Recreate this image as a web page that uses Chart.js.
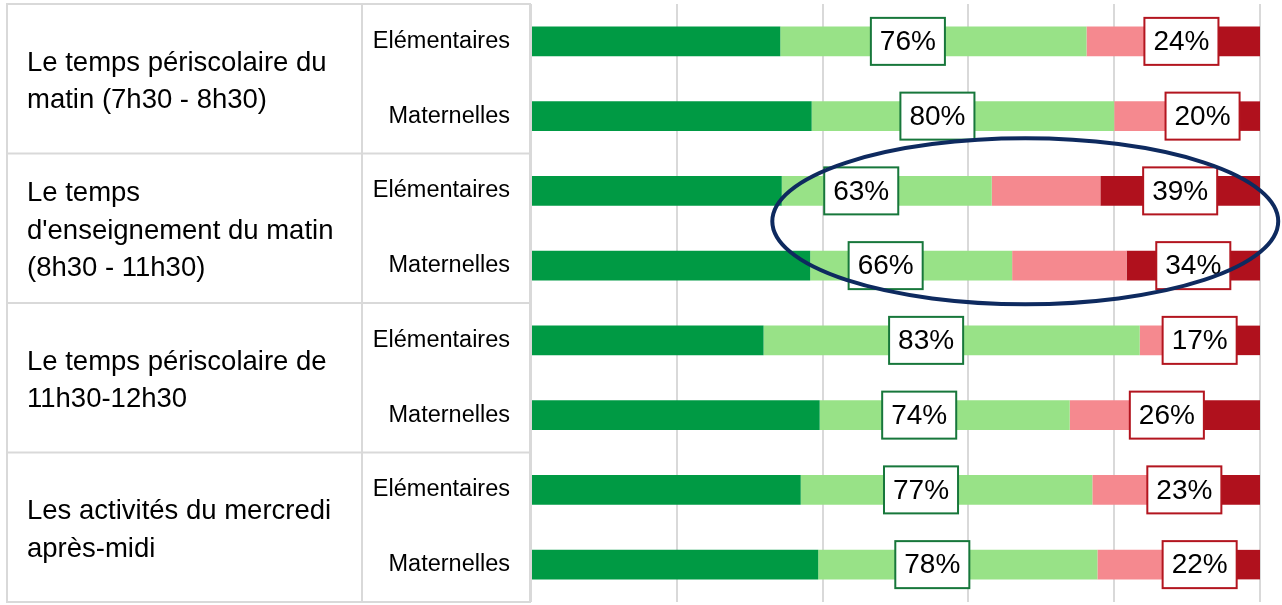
<!DOCTYPE html>
<html lang="fr">
<head>
<meta charset="utf-8">
<title>Temps périscolaire</title>
<script src="https://cdn.jsdelivr.net/npm/chart.js@4.4.1/dist/chart.umd.min.js"></script>
<style>
    html, body { margin: 0; padding: 0; background: #ffffff; }
    #chartCanvasContainer { width: 1282px; height: 605px; }
</style>
</head>
<body>
<div id="chartCanvasContainer"><canvas id="barCanvas" width="1282" height="605"></canvas></div>
<script>
const subLabels = ['Elémentaires', 'Maternelles', 'Elémentaires', 'Maternelles',
    'Elémentaires', 'Maternelles', 'Elémentaires', 'Maternelles']
const groupLabels = [
    ['Le temps périscolaire du', 'matin (7h30 - 8h30)'],
    ['Le temps', "d'enseignement du matin", '(8h30 - 11h30)'],
    ['Le temps périscolaire de', '11h30-12h30'],
    ['Les activités du mercredi', 'après-midi']
]
const darkGreen = [34.2, 38.5, 34.4, 38.3, 31.9, 39.6, 37.0, 39.4]
const lightGreen = [42.0, 41.5, 28.8, 27.7, 51.6, 34.3, 40.0, 38.3]
const pink = [18.1, 17.2, 14.9, 15.7, 13.3, 18.4, 17.7, 19.1]
const darkRed = [5.7, 2.8, 21.9, 18.3, 3.2, 7.7, 5.3, 3.2]
const positiveLabels = [76, 80, 63, 66, 83, 74, 77, 78]
const negativeLabels = [24, 20, 39, 34, 17, 26, 23, 22]
const xTickMin = 0
const xTickMax = 100
const xTickStep = 20

const fontFamily = '"Liberation Sans", Arial, sans-serif'

// table on the left (group cells + sub label cells)
const tablePlugin = {
    id: 'tablePlugin',
    beforeDraw(chart) {
        let ctx = chart.ctx
        let y = chart.scales.y
        let colLeft = 7, colMid = 362, colRight = 530
        ctx.save()
        ctx.strokeStyle = '#d9d9d9'
        ctx.lineWidth = 2
        let bounds = []
        for (let g = 0; g <= groupLabels.length; g++) {
            bounds.push(y.getPixelForValue(g * 2 - 0.5))
        }
        ctx.beginPath()
        for (let b of bounds) {
            ctx.moveTo(colLeft - 1, b)
            ctx.lineTo(colRight + 1, b)
        }
        for (let cx of [colLeft, colMid, colRight]) {
            ctx.moveTo(cx, bounds[0])
            ctx.lineTo(cx, bounds[bounds.length - 1])
        }
        ctx.stroke()

        ctx.fillStyle = '#000000'
        ctx.font = '27.5px ' + fontFamily
        ctx.textAlign = 'left'
        ctx.textBaseline = 'middle'
        let lineHeight = 37.5
        for (let g = 0; g < groupLabels.length; g++) {
            let lines = groupLabels[g]
            let mid = (bounds[g] + bounds[g + 1]) / 2 + 3
            let top = mid - (lines.length - 1) * lineHeight / 2
            lines.forEach((line, i) => {
                ctx.fillText(line, 27, top + i * lineHeight)
            })
        }
        ctx.restore()
    }
}

// boxed percentage labels
const valueBoxPlugin = {
    id: 'valueBoxPlugin',
    afterDatasetsDraw(chart) {
        let ctx = chart.ctx
        let x = chart.scales.x
        let lightMeta = chart.getDatasetMeta(1)
        let redMeta = chart.getDatasetMeta(3)
        let shift = x.getPixelForValue(3.5) - x.getPixelForValue(0)
        ctx.save()
        ctx.font = '28px ' + fontFamily
        ctx.textAlign = 'center'
        ctx.textBaseline = 'middle'
        let drawBox = (text, cx, cy, color) => {
            let w = ctx.measureText(text).width + 18
            let h = 47
            ctx.fillStyle = '#ffffff'
            ctx.fillRect(cx - w / 2, cy - h / 2, w, h)
            ctx.strokeStyle = color
            ctx.lineWidth = 2
            ctx.strokeRect(cx - w / 2, cy - h / 2, w, h)
            ctx.fillStyle = '#000000'
            ctx.fillText(text, cx, cy + 1)
        }
        for (let i = 0; i < subLabels.length; i++) {
            let light = lightMeta.data[i]
            let gText = positiveLabels[i] + '%'
            drawBox(gText, (light.x + light.base) / 2 - shift, light.y, '#17773b')

            let red = redMeta.data[i]
            let rText = negativeLabels[i] + '%'
            let w = ctx.measureText(rText).width + 18
            let cx = (red.x - red.base >= w) ? (red.x + red.base) / 2 : red.base - w / 2
            drawBox(rText, cx, red.y, '#b3151f')
        }
        ctx.restore()
    }
}

// highlight ellipse round the "enseignement" rows
const ellipsePlugin = {
    id: 'ellipsePlugin',
    afterDraw(chart) {
        let ctx = chart.ctx
        let x = chart.scales.x
        let y = chart.scales.y
        let cx = x.getPixelForValue(67.8)
        let cy = (y.getPixelForValue(2) + y.getPixelForValue(3)) / 2 - 7
        let rx = x.getPixelForValue(34.7) - x.getPixelForValue(0)
        let ry = (y.getPixelForValue(1) - y.getPixelForValue(0)) * 1.11
        ctx.save()
        ctx.strokeStyle = '#0e2a5f'
        ctx.lineWidth = 4
        ctx.beginPath()
        ctx.ellipse(cx, cy, rx, ry, 0, 0, Math.PI * 2)
        ctx.stroke()
        ctx.restore()
    }
}

function makeDataset(data, color) {
    return {
        data: data,
        backgroundColor: color,
        borderWidth: 0,
        barPercentage: 0.395,
        categoryPercentage: 1
    }
}

const barConfig = {
    type: 'bar',
    data: {
        labels: subLabels,
        datasets: [
            makeDataset(darkGreen, '#009a44'),
            makeDataset(lightGreen, '#98e287'),
            makeDataset(pink, '#f5898f'),
            makeDataset(darkRed, '#b0111d')
        ]
    },
    options: {
        indexAxis: 'y',
        responsive: false,
        animation: false,
        layout: { padding: { top: 4, bottom: 3, left: 0, right: 22 } },
        plugins: {
            legend: { display: false },
            tooltip: { enabled: false }
        },
        scales: {
            x: {
                stacked: true,
                min: xTickMin,
                max: xTickMax,
                afterFit(scale) {
                    scale.height = 0
                    scale.paddingLeft = 0
                    scale.paddingRight = 0
                },
                ticks: { display: false, stepSize: xTickStep },
                grid: { color: '#d9d9d9', lineWidth: 2, drawTicks: false },
                border: { display: false }
            },
            y: {
                stacked: true,
                afterFit(scale) {
                    scale.width = 531
                    scale.paddingTop = 0
                    scale.paddingBottom = 0
                },
                ticks: {
                    padding: 21,
                    color: '#000000',
                    autoSkip: false,
                    font: { family: fontFamily, size: 23.5 }
                },
                grid: { display: false, drawTicks: false },
                border: { display: false }
            }
        }
    },
    plugins: [tablePlugin, valueBoxPlugin, ellipsePlugin]
}

let bar = document.getElementById('barCanvas')
let barChart = new Chart(bar, barConfig)
</script>
</body>
</html>
